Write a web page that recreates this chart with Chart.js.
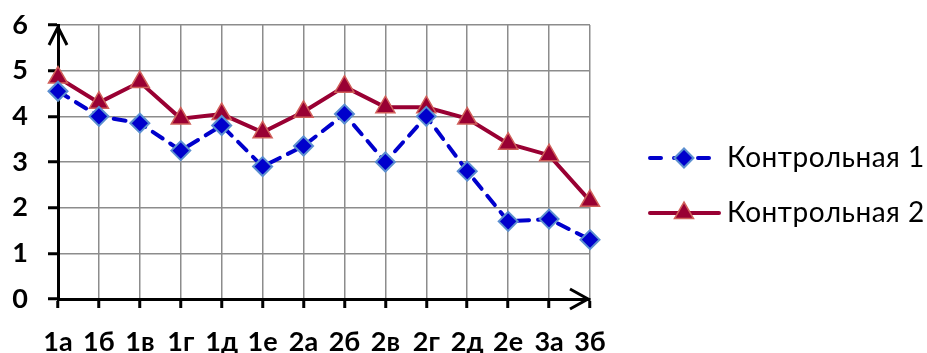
<!DOCTYPE html>
<html>
<head>
<meta charset="utf-8">
<script src="https://cdn.jsdelivr.net/npm/chart.js@4/dist/chart.umd.min.js"></script>
<style>
  html, body { margin: 0; padding: 0; background: #fff; }
  #wrap { width: 927px; height: 353px; position: relative; }
</style>
</head>
<body>
<div id="wrap"><canvas id="c"></canvas></div>
<script>
// Classes and average marks for the two tests
const categories = ['1а', '1б', '1в', '1г', '1д', '1е', '2а', '2б', '2в', '2г', '2д', '2е', '3а', '3б'];
const test1 = [4.55, 4.0, 3.85, 3.25, 3.8, 2.9, 3.35, 4.05, 3.0, 4.0, 2.8, 1.7, 1.75, 1.3];
const test2 = [4.85, 4.3, 4.75, 3.95, 4.05, 3.65, 4.1, 4.65, 4.2, 4.2, 3.95, 3.4, 3.15, 2.15];
const seriesNames = ['Контрольная 1', 'Контрольная 2'];
const yTicks = [0, 1, 2, 3, 4, 5, 6];

const FONT = 'Lato, "Open Sans", "DejaVu Sans", sans-serif';

// Axis arrows at the ends of both axes
const axisArrows = {
  id: 'axisArrows',
  afterDraw(chart) {
    const { ctx, chartArea: a } = chart;
    ctx.save();
    ctx.strokeStyle = '#000';
    ctx.lineWidth = 3;
    ctx.lineCap = 'butt';
    ctx.lineJoin = 'miter';
    // y axis arrow
    ctx.beginPath();
    ctx.moveTo(a.left - 9, a.top + 20);
    ctx.lineTo(a.left, a.top + 2);
    ctx.lineTo(a.left + 9, a.top + 20);
    ctx.stroke();
    // x axis arrow
    ctx.beginPath();
    ctx.moveTo(a.right - 20, a.bottom - 10);
    ctx.lineTo(a.right - 2, a.bottom);
    ctx.lineTo(a.right - 20, a.bottom + 10);
    ctx.stroke();
    ctx.restore();
  }
};

// Legend on the right: line sample with marker, then series name
const sideLegend = {
  id: 'sideLegend',
  afterDraw(chart) {
    const { ctx } = chart;
    const rows = [158, 213];
    const x0 = 650, xm = 684;
    const ends = [713, 719];
    chart.data.datasets.forEach((ds, i) => {
      const y = rows[i];
      ctx.save();
      ctx.strokeStyle = ds.borderColor;
      ctx.lineWidth = ds.borderWidth;
      ctx.lineCap = 'round';
      ctx.setLineDash(ds.borderDash ? [11, 13] : []);
      ctx.beginPath();
      ctx.moveTo(x0, y);
      ctx.lineTo(ends[i], y);
      ctx.stroke();
      ctx.setLineDash([]);
      ctx.fillStyle = ds.pointBackgroundColor;
      ctx.strokeStyle = ds.pointBorderColor;
      ctx.lineWidth = ds.pointBorderWidth;
      ctx.beginPath();
      const r = ds.pointRadius;
      if (ds.pointStyle === 'rectRot') {
        ctx.moveTo(xm - r, y); ctx.lineTo(xm, y - r); ctx.lineTo(xm + r, y); ctx.lineTo(xm, y + r); ctx.closePath();
      } else {
        ctx.moveTo(xm, y - r);
        ctx.lineTo(xm - r * Math.sin(Math.PI / 3), y + r / 2);
        ctx.lineTo(xm + r * Math.sin(Math.PI / 3), y + r / 2);
        ctx.closePath();
      }
      ctx.fill();
      ctx.stroke();
      ctx.fillStyle = '#000';
      ctx.font = '28px ' + FONT;
      ctx.letterSpacing = '0.5px';
      ctx.textBaseline = 'middle';
      ctx.textAlign = 'left';
      ctx.fillText(ds.label, 727, y);
      ctx.restore();
    });
  }
};

new Chart(document.getElementById('c'), {
  type: 'line',
  data: {
    labels: categories,
    datasets: [
      {
        label: seriesNames[0],
        data: test1,
        borderColor: '#0000CC',
        borderWidth: 4,
        borderDash: [12, 9],
        borderCapStyle: 'round',
        pointStyle: 'rectRot',
        pointRadius: 9.5,
        pointBackgroundColor: '#0000CC',
        pointBorderColor: '#5B8FD0',
        pointBorderWidth: 2,
        tension: 0,
        order: 0
      },
      {
        label: seriesNames[1],
        data: test2,
        borderColor: '#990033',
        borderWidth: 4,
        pointStyle: 'triangle',
        pointRadius: 11,
        pointBackgroundColor: '#990033',
        pointBorderColor: '#D0605A',
        pointBorderWidth: 1.5,
        tension: 0,
        order: 1
      }
    ]
  },
  options: {
    responsive: true,
    maintainAspectRatio: false,
    animation: false,
    events: [],
    layout: { padding: { top: 25, right: 337, left: 0, bottom: 0 } },
    plugins: { legend: { display: false }, tooltip: { enabled: false } },
    scales: {
      x: {
        offset: false,
        afterFit(s) { s.height = 54; s.paddingLeft = 0; s.paddingRight = 0; },
        grid: { color: '#8c8c8c', lineWidth: 1.5, tickColor: '#000', tickWidth: 3, tickLength: 9, drawOnChartArea: true },
        border: { color: '#000', width: 3 },
        ticks: { color: '#000', padding: 18, maxRotation: 0, autoSkip: false, font: { family: FONT, size: 27, weight: 'bold' } }
      },
      y: {
        min: 0,
        max: 6,
        afterFit(s) { s.width = 58; s.paddingTop = 0; s.paddingBottom = 0; },
        afterBuildTicks(s) { s.ticks = yTicks.map(v => ({ value: v })); },
        grid: { color: '#8c8c8c', lineWidth: 1.5, tickColor: '#000', tickWidth: 3, tickLength: 10 },
        border: { color: '#000', width: 3 },
        ticks: { color: '#000', padding: 20, font: { family: FONT, size: 27, weight: 'bold' } }
      }
    }
  },
  plugins: [axisArrows, sideLegend]
});
</script>
</body>
</html>
